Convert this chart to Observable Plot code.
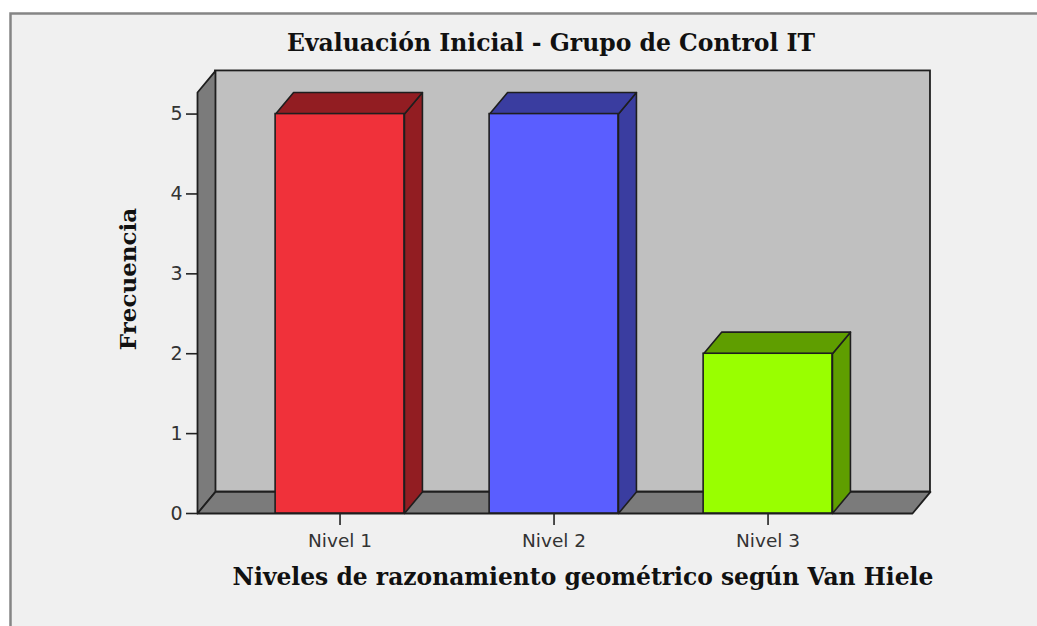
<!DOCTYPE html>
<html>
<head>
<meta charset="utf-8">
<script src="https://cdn.jsdelivr.net/npm/d3@7"></script>
<script src="https://cdn.jsdelivr.net/npm/@observablehq/plot@0.6"></script>
<style>
  html, body { margin: 0; padding: 0; background: #ffffff; }
  #chart svg { display: block; }
</style>
</head>
<body>
<div id="chart"></div>
<script>
// Frequencies of Van Hiele levels, initial evaluation
const categories = ["Nivel 1", "Nivel 2", "Nivel 3"];
const frequencies = [5, 5, 2];
const frontColors = ["#f0313a", "#5a5eff", "#99ff00"];
const shadeColors = ["#921d22", "#3a3da0", "#5f9e00"];
const yTicks = [0, 1, 2, 3, 4, 5];

const title = "Evaluación Inicial - Grupo de Control IT";
const xLabel = "Niveles de razonamiento geométrico según Van Hiele";
const yLabel = "Frecuencia";

// Pseudo-3D geometry in data units
const xMin = -0.666, xMax = 2.675;
const yMax = 5.27;
const depthX = 0.084, depthY = 0.27;
const halfWidth = 0.301;

const bars = categories.map((c, i) => ({
  i, c, v: frequencies[i], front: frontColors[i], shade: shadeColors[i]
}));

// Polygons for the bar tops and right sides
const polys = [];
bars.forEach(b => {
  const l = b.i - halfWidth, r = b.i + halfWidth;
  polys.push(...[
    [r, 0], [r, b.v], [r + depthX, b.v + depthY], [r + depthX, depthY]
  ].map(([x, y]) => ({id: "side" + b.i, x, y, fill: b.shade})));
  polys.push(...[
    [l, b.v], [r, b.v], [r + depthX, b.v + depthY], [l + depthX, b.v + depthY]
  ].map(([x, y]) => ({id: "top" + b.i, x, y, fill: b.shade})));
});

// Left wall and floor
const walls = [];
[[xMin, 0], [xMin, yMax], [xMin + depthX, yMax + depthY], [xMin + depthX, depthY]]
  .forEach(([x, y]) => walls.push({id: "left", x, y}));
[[xMin, 0], [xMin + depthX, depthY], [xMax + depthX, depthY], [xMax, 0]]
  .forEach(([x, y]) => walls.push({id: "floor", x, y}));

const outline = "#1e1e1e";

const chart = Plot.plot({
  width: 1037,
  height: 626,
  marginLeft: 197,
  marginRight: 125,
  marginTop: 92,
  marginBottom: 113,
  style: {background: "#ffffff", overflow: "visible"},
  x: {domain: [xMin, xMax], axis: null},
  y: {domain: [0, yMax], axis: null},
  color: {type: "identity"},
  marks: [
    // outer panel
    Plot.frame({
      fill: "#f0f0f0", stroke: "#858585", strokeWidth: 2.5,
      insetLeft: -187, insetTop: -79, insetRight: -160, insetBottom: -150
    }),
    // back wall
    Plot.rect([{}], {
      x1: xMin + depthX, x2: xMax + depthX, y1: depthY, y2: yMax + depthY,
      fill: "#c0c0c0", stroke: outline, strokeWidth: 1.8
    }),
    Plot.line(walls, {
      x: "x", y: "y", z: "id", fill: "#7b7b7b", stroke: outline,
      strokeWidth: 1.8, curve: "linear-closed", strokeLinejoin: "round"
    }),
    // bars: shaded faces, then fronts
    Plot.line(polys, {
      x: "x", y: "y", z: "id", fill: "fill", stroke: outline,
      strokeWidth: 1.6, curve: "linear-closed", strokeLinejoin: "round"
    }),
    Plot.rect(bars, {
      x1: d => d.i - halfWidth, x2: d => d.i + halfWidth, y1: 0, y2: "v",
      fill: "front", stroke: outline, strokeWidth: 1.6
    }),
    // axes
    Plot.axisY(yTicks, {
      anchor: "left", label: null, tickFormat: d3.format("d"),
      tickSize: 11, tickPadding: 4, stroke: "#222",
      strokeWidth: 1.6, fontSize: 19, fill: "#333",
      fontFamily: "DejaVu Sans"
    }),
    Plot.axisX([0, 1, 2], {
      anchor: "bottom", label: null,
      tickSize: 12, tickPadding: 8, stroke: "#222",
      strokeWidth: 1.6, fontSize: 18.5, fill: "#333",
      fontFamily: "DejaVu Sans",
      tickFormat: i => categories[i]
    }),
    // texts
    Plot.text([title], {
      frameAnchor: "top", dx: -4, dy: -58, text: d => d,
      fontSize: 23.5, fontWeight: "bold", fontFamily: "DejaVu Serif",
      fill: "#111"
    }),
    Plot.text([xLabel], {
      frameAnchor: "bottom", dx: 28, dy: 71, text: d => d,
      fontSize: 23.4, fontWeight: "bold", fontFamily: "DejaVu Serif",
      fill: "#111"
    }),
    Plot.text([yLabel], {
      frameAnchor: "left", textAnchor: "middle", dx: -69, dy: -24, rotate: -90,
      text: d => d,
      fontSize: 23, fontWeight: "bold", fontFamily: "DejaVu Serif",
      fill: "#111"
    })
  ]
});

document.getElementById("chart").appendChild(chart);
</script>
</body>
</html>
